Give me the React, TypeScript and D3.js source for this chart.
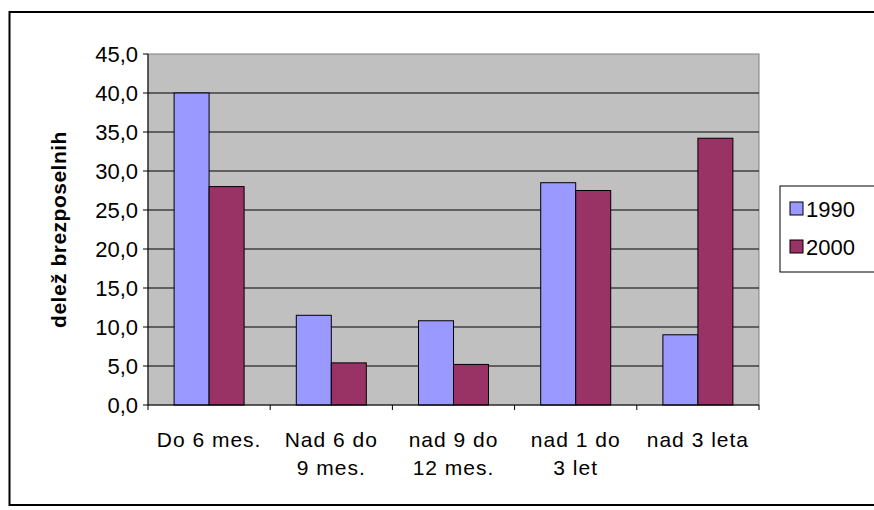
import * as d3 from "d3";
import React from "react";

const categories = [["Do 6 mes."], ["Nad 6 do", "9 mes."], ["nad 9 do", "12 mes."], ["nad 1 do", "3 let"], ["nad 3 leta"]];
const series = ["1990", "2000"];
const values1990 = [40.0, 11.5, 10.8, 28.5, 9.0];
const values2000 = [28.0, 5.4, 5.2, 27.5, 34.2];
const colors = ["#9999ff", "#993366"];
const yTicks = [0, 5, 10, 15, 20, 25, 30, 35, 40, 45];

const App = () => {
  const W = 874, H = 510;
  const left = 148, right = 759, top = 54, bottom = 405;
  const x = d3.scaleBand<number>().domain(d3.range(categories.length)).range([left, right]);
  const y = d3.scaleLinear().domain([0, 45]).range([bottom, top]);
  const barW = 35;
  const data = [values1990, values2000];
  const font = "'Liberation Sans', Arial, sans-serif";
  return (
    <svg width={W} height={H} style={{ position: "absolute", left: 0, top: 0 }} fontFamily={font}>
      <rect x={0} y={0} width={W} height={H} fill="white" />
      <rect x={9.5} y={12} width={W} height={493} fill="none" stroke="black" strokeWidth={2} />
      <rect x={left} y={top} width={right - left} height={bottom - top} fill="#c0c0c0" stroke="#808080" />
      {yTicks.slice(1, -1).map((t) => (
        <line key={t} x1={left} x2={right} y1={y(t)} y2={y(t)} stroke="black" />
      ))}
      {data.map((vals, s) =>
        vals.map((v, i) => {
          const cx = x(i)! + x.bandwidth() / 2;
          const bx = s === 0 ? cx - barW : cx;
          return <rect key={`${s}-${i}`} x={bx} y={y(v)} width={barW} height={bottom - y(v)} fill={colors[s]} stroke="black" />;
        })
      )}
      <line x1={left} x2={left} y1={top} y2={bottom} stroke="black" />
      <line x1={left} x2={right} y1={bottom} y2={bottom} stroke="black" />
      {yTicks.map((t) => (
        <g key={t}>
          <line x1={left - 5} x2={left} y1={y(t)} y2={y(t)} stroke="black" />
          <text x={left - 10} y={y(t)} dy="0.35em" textAnchor="end" fontSize={22}>
            {t.toFixed(1).replace(".", ",")}
          </text>
        </g>
      ))}
      {d3.range(categories.length + 1).map((i) => {
        const xx = left + i * x.step();
        return <line key={i} x1={xx} x2={xx} y1={bottom} y2={bottom + 5} stroke="black" />;
      })}
      {categories.map((lines, i) =>
        lines.map((l, j) => (
          <text key={`${i}-${j}`} x={x(i)! + x.bandwidth() / 2} y={447 + j * 28} textAnchor="middle" fontSize={21} letterSpacing={1}>
            {l}
          </text>
        ))
      )}
      <text transform={`translate(66,${(top + bottom) / 2}) rotate(-90)`} textAnchor="middle" fontSize={21} fontWeight="bold" letterSpacing={0.5}>
        delež brezposelnih
      </text>
      <rect x={780} y={186} width={100} height={86} fill="white" stroke="black" />
      {series.map((s, i) => (
        <g key={s}>
          <rect x={790} y={202 + i * 38} width={13} height={13} fill={colors[i]} stroke="black" />
          <text x={806} y={209 + i * 38} dy="0.35em" fontSize={22}>{s}</text>
        </g>
      ))}
    </svg>
  );
};

export default App;
